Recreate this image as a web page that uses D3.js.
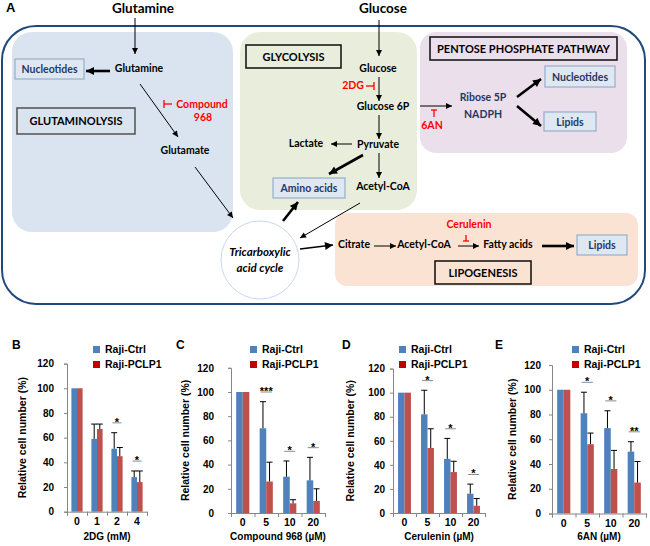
<!DOCTYPE html>
<html>
<head>
<meta charset="utf-8">
<script src="https://cdn.jsdelivr.net/npm/d3@7"></script>
<style>
  body { margin: 0; background: #fff; }
  svg { display: block; }
</style>
</head>
<body>
<div id="chart"></div>
<script>
// bar chart data
const seriesNames = ["Raji-Ctrl", "Raji-PCLP1"];
const yTicks = [0, 20, 40, 60, 80, 100, 120];

const catsB = ["0", "1", "2", "4"];
const ctrlB = [100, 59, 51, 28];
const ctrlErrB = [0, 12, 13, 5];
const pclpB = [100, 67, 45, 24];
const pclpErrB = [0, 4, 7, 9];
const sigB = ["", "", "*", "*"];

const catsC = ["0", "5", "10", "20"];
const ctrlC = [100, 70, 30, 27];
const ctrlErrC = [0, 22, 13, 19];
const pclpC = [100, 26, 8, 10];
const pclpErrC = [0, 16, 3, 10];
const sigC = ["", "***", "*", "*"];

const catsD = ["0", "5", "10", "20"];
const ctrlD = [100, 82, 45, 16];
const ctrlErrD = [0, 20, 17, 8];
const pclpD = [100, 54, 34, 6];
const pclpErrD = [0, 16, 9, 6];
const sigD = ["", "*", "*", "*"];

const catsE = ["0", "5", "10", "20"];
const ctrlE = [100, 81, 69, 50];
const ctrlErrE = [0, 17, 14, 8];
const pclpE = [100, 56, 36, 25];
const pclpErrE = [0, 9, 15, 17];
const sigE = ["", "*", "*", "**"];

const W = 650, H = 546;
const blue = "#4F81BD", red = "#C0504D", redLegend = "#C00000";
const navy = "#1F3864";
const diagFont = "Lato, 'Open Sans', sans-serif";
const chartFont = "'Liberation Sans', Arial, sans-serif";

const svg = d3.select("#chart").append("svg")
    .attr("width", W)
    .attr("height", H);

const defs = svg.append("defs");
function addMarker(id, w, h) {
    defs.append("marker")
        .attr("id", id)
        .attr("viewBox", "0 0 10 10")
        .attr("refX", 10).attr("refY", 5)
        .attr("markerUnits", "userSpaceOnUse")
        .attr("markerWidth", w).attr("markerHeight", h)
        .attr("orient", "auto")
        .append("path")
        .attr("d", "M0,0 L10,5 L0,10 z")
        .attr("fill", "#000");
}
addMarker("thin", 7, 6);
addMarker("thick", 9, 8);

/* ---------------- panel A: the pathway diagram ---------------- */
const dia = svg.append("g");

dia.append("text").text("A")
    .attr("x", 6).attr("y", 12)
    .style("font", "bold 13px " + chartFont);

// outer cell outline
dia.append("rect")
    .attr("x", 2).attr("y", 26).attr("width", 643).attr("height", 278)
    .attr("rx", 34)
    .attr("fill", "none").attr("stroke", "#1F497D").attr("stroke-width", 2);

// coloured pathway areas
const areas = [
    {x: 12, y: 32, w: 221, h: 200, r: 20, fill: "#DAE4F0"},
    {x: 240, y: 32, w: 177, h: 178, r: 20, fill: "#E9EEDC"},
    {x: 420, y: 32, w: 207, h: 121, r: 16, fill: "#EADFEB"},
    {x: 335, y: 213, w: 303, h: 73, r: 12, fill: "#FBE3D4"}
];
dia.selectAll("rect.area").data(areas).enter().append("rect")
    .attr("class", "area")
    .attr("x", d => d.x).attr("y", d => d.y)
    .attr("width", d => d.w).attr("height", d => d.h)
    .attr("rx", d => d.r)
    .attr("fill", d => d.fill);

// TCA circle
dia.append("circle")
    .attr("cx", 260).attr("cy", 260).attr("r", 39)
    .attr("fill", "#fff").attr("stroke", "#C6D9F1").attr("stroke-width", 1);

// black title boxes
const titleBoxes = [
    {t: "GLUTAMINOLYSIS", x: 17, y: 108, w: 118, h: 26, stroke: "#595959"},
    {t: "GLYCOLYSIS", x: 246, y: 45, w: 95, h: 23, stroke: "#1a1a1a"},
    {t: "PENTOSE PHOSPHATE PATHWAY", x: 430, y: 37, w: 187, h: 23, stroke: "#1a1a1a"},
    {t: "LIPOGENESIS", x: 435, y: 261, w: 96, h: 23, stroke: "#1a1a1a"}
];
titleBoxes.forEach(b => {
    dia.append("rect")
        .attr("x", b.x).attr("y", b.y).attr("width", b.w).attr("height", b.h)
        .attr("fill", "none").attr("stroke", b.stroke).attr("stroke-width", 1.6);
    dia.append("text").text(b.t)
        .attr("x", b.x + b.w / 2).attr("y", b.y + b.h / 2 + 4)
        .attr("text-anchor", "middle")
        .style("font", "bold 11px " + diagFont);
});

// product boxes (navy text)
const prodBoxes = [
    {t: "Nucleotides", x: 15, y: 59, w: 69, h: 20},
    {t: "Amino acids", x: 273, y: 178, w: 72, h: 20},
    {t: "Nucleotides", x: 545, y: 66, w: 70, h: 21},
    {t: "Lipids", x: 544, y: 112, w: 52, h: 19},
    {t: "Lipids", x: 577, y: 235, w: 50, h: 20}
];
prodBoxes.forEach(b => {
    dia.append("rect")
        .attr("x", b.x).attr("y", b.y).attr("width", b.w).attr("height", b.h)
        .attr("fill", "#DFE7F1").attr("stroke", "#95AFCB").attr("stroke-width", 1.2);
    dia.append("text").text(b.t)
        .attr("x", b.x + b.w / 2).attr("y", b.y + b.h / 2 + 4)
        .attr("text-anchor", "middle")
        .attr("fill", navy)
        .style("font", "bold 10.5px " + diagFont);
});

// plain labels
const labels = [
    {t: "Glutamine", x: 143, y: 13, s: 13.5},
    {t: "Glucose", x: 383, y: 13, s: 13.5},
    {t: "Glutamine", x: 139, y: 72},
    {t: "Glutamate", x: 185, y: 154},
    {t: "Glucose", x: 378, y: 72},
    {t: "Glucose 6P", x: 383, y: 110},
    {t: "Pyruvate", x: 378, y: 148},
    {t: "Lactate", x: 306, y: 147},
    {t: "Acetyl-CoA", x: 383, y: 190},
    {t: "Ribose 5P", x: 483, y: 101, c: navy},
    {t: "NADPH", x: 483, y: 118, c: navy},
    {t: "Citrate", x: 354, y: 248},
    {t: "Acetyl-CoA", x: 424, y: 248},
    {t: "Fatty acids", x: 508, y: 248},
    {t: "Compound", x: 202, y: 108, c: "#FF0000"},
    {t: "968", x: 203, y: 121, c: "#FF0000"},
    {t: "2DG", x: 353, y: 89, c: "#FF0000"},
    {t: "6AN", x: 432, y: 129, c: "#FF0000"},
    {t: "Cerulenin", x: 469, y: 228, c: "#FF0000"}
];
dia.selectAll("text.lab").data(labels).enter().append("text")
    .attr("class", "lab")
    .attr("x", d => d.x).attr("y", d => d.y)
    .attr("text-anchor", "middle")
    .attr("fill", d => d.c || "#000")
    .style("font", d => "bold " + (d.s || 10.5) + "px " + diagFont)
    .text(d => d.t);

dia.append("text")
    .attr("x", 260).attr("text-anchor", "middle")
    .style("font", "italic bold 11.5px " + diagFont)
    .selectAll("tspan").data(["Tricarboxylic", "acid cycle"]).enter()
    .append("tspan")
    .attr("x", 260).attr("y", (d, i) => 256 + i * 16)
    .text(d => d);

// arrows
const arrows = [
    [135, 18, 135, 54, "thin"], [140, 84, 178, 137, "thin"], [195, 167, 233, 218, "thin"],
    [379, 20, 379, 56, "thin"], [379, 77, 379, 101, "thin"], [379, 115, 379, 139, "thin"],
    [352, 144, 331, 144, "thin"], [379, 153, 379, 178, "thin"], [360, 203, 300, 238, "thin"],
    [420, 106, 452, 106, "thin"], [374, 246, 396, 246, "thin"], [458, 246, 479, 246, "thin"],
    [110, 71, 86, 71, "thick"], [363, 155, 329, 174, "thick"], [283, 221, 298, 202, "thick"],
    [300, 249, 333, 245, "mid"], [517, 97, 541, 79, "thick"], [517, 106, 541, 126, "thick"],
    [542, 246, 574, 246, "thick"]
];
dia.selectAll("line.arr").data(arrows).enter().append("line")
    .attr("class", "arr")
    .attr("x1", d => d[0]).attr("y1", d => d[1])
    .attr("x2", d => d[2]).attr("y2", d => d[3])
    .attr("stroke", "#000")
    .attr("stroke-width", d => d[4] === "thin" ? 1 : (d[4] === "mid" ? 1.6 : 2.6))
    .attr("marker-end", d => d[4] === "thin" ? "url(#thin)" : "url(#thick)");

// inhibitor bars (red)
const inhib = [
    [164, 104, 172, 104], [164, 100, 164, 108],
    [366, 86, 374, 86], [374, 82, 374, 90],
    [431, 110, 437, 110], [434, 110, 434, 117],
    [463, 241, 469, 241], [466, 235, 466, 241]
];
dia.selectAll("line.inh").data(inhib).enter().append("line")
    .attr("class", "inh")
    .attr("x1", d => d[0]).attr("y1", d => d[1])
    .attr("x2", d => d[2]).attr("y2", d => d[3])
    .attr("stroke", "#FF0000").attr("stroke-width", 1.3);

/* ---------------- panels B-E: bar charts ---------------- */
const panels = [
    {id: "B", cats: catsB, ctrl: ctrlB, ctrlErr: ctrlErrB, pclp: pclpB, pclpErr: pclpErrB, sig: sigB,
        title: "2DG (mM)", left: 67, right: 147, y0: 511.7, y120: 363.6, labRight: 54, ytX: 22, letterX: 12, legX: 93},
    {id: "C", cats: catsC, ctrl: ctrlC, ctrlErr: ctrlErrC, pclp: pclpC, pclpErr: pclpErrC, sig: sigC,
        title: "Compound 968 (\u00B5M)", left: 231, right: 325, y0: 513, y120: 367.8, labRight: 214, ytX: 185, letterX: 176, legX: 250},
    {id: "D", cats: catsD, ctrl: ctrlD, ctrlErr: ctrlErrD, pclp: pclpD, pclpErr: pclpErrD, sig: sigD,
        title: "Cerulenin (\u00B5M)", left: 393, right: 485, y0: 513, y120: 368.6, labRight: 385, ytX: 350, letterX: 342, legX: 399},
    {id: "E", cats: catsE, ctrl: ctrlE, ctrlErr: ctrlErrE, pclp: pclpE, pclpErr: pclpErrE, sig: sigE,
        title: "6AN (\u00B5M)", left: 552, right: 646, y0: 513.5, y120: 365, labRight: 541, ytX: 512, letterX: 495, legX: 572}
];

function drawPanel(p) {
    const g = svg.append("g");

    const y = d3.scaleLinear().domain([0, 120]).range([p.y0, p.y120]);
    const x = d3.scaleBand().domain(p.cats).range([p.left, p.right])
        .paddingInner(0.44).paddingOuter(0.22);
    const xs = d3.scaleBand().domain(["ctrl", "pclp"]).range([0, x.bandwidth()]);
    const xt = d3.scaleLinear().domain([0, p.cats.length]).range([p.left, p.right]);

    // y axis
    const ya = g.append("g")
        .attr("transform", `translate(${p.left},0)`)
        .call(d3.axisLeft(y).tickValues(yTicks).tickSize(3).tickPadding(p.left - p.labRight - 3));
    ya.select(".domain").attr("stroke", "#868686");
    ya.selectAll(".tick line").attr("stroke", "#868686");
    ya.selectAll("text").style("font", "bold 10px " + chartFont).attr("fill", "#000");

    // bars
    const rows = p.cats.map((c, i) => [
        {cat: c, key: "ctrl", v: p.ctrl[i], e: p.ctrlErr[i]},
        {cat: c, key: "pclp", v: p.pclp[i], e: p.pclpErr[i]}
    ]).flat();

    g.selectAll("rect.bar").data(rows).enter().append("rect")
        .attr("class", "bar")
        .attr("x", d => x(d.cat) + xs(d.key))
        .attr("y", d => y(d.v))
        .attr("width", xs.bandwidth())
        .attr("height", d => y(0) - y(d.v))
        .attr("fill", d => d.key === "ctrl" ? blue : red);

    // error bars, upper half only
    const errs = rows.filter(d => d.e > 0);
    const cx = d => x(d.cat) + xs(d.key) + xs.bandwidth() / 2;
    g.selectAll("line.err").data(errs).enter().append("line")
        .attr("x1", cx).attr("x2", cx)
        .attr("y1", d => y(d.v)).attr("y2", d => y(d.v + d.e))
        .attr("stroke", "#000").attr("stroke-width", 1);
    g.selectAll("line.cap").data(errs).enter().append("line")
        .attr("x1", d => cx(d) - 3).attr("x2", d => cx(d) + 3)
        .attr("y1", d => y(d.v + d.e)).attr("y2", d => y(d.v + d.e))
        .attr("stroke", "#000").attr("stroke-width", 1);

    // x axis: tick marks between categories, labels under them
    const xa = g.append("g")
        .attr("transform", `translate(0,${p.y0})`)
        .call(d3.axisBottom(xt).tickValues(d3.range(p.cats.length + 1)).tickFormat("").tickSize(4));
    xa.select(".domain").attr("stroke", "#868686");
    xa.selectAll(".tick line").attr("stroke", "#868686");
    const xl = g.append("g")
        .attr("transform", `translate(0,${p.y0})`)
        .call(d3.axisBottom(x).tickSize(0).tickPadding(6));
    xl.select(".domain").remove();
    xl.selectAll("text").style("font", "bold 10.5px " + chartFont).attr("fill", "#000");

    // significance marks
    p.sig.forEach((s, i) => {
        if (!s) return;
        const top = Math.max(p.ctrl[i] + p.ctrlErr[i], p.pclp[i] + p.pclpErr[i]);
        const ly = y(top + 8);
        const x0 = x(p.cats[i]);
        g.append("line")
            .attr("x1", x0 + 1).attr("x2", x0 + x.bandwidth() - 1)
            .attr("y1", ly).attr("y2", ly)
            .attr("stroke", "#8c8c8c").attr("stroke-width", 1);
        g.append("text").text(s)
            .attr("x", x0 + x.bandwidth() / 2).attr("y", ly + 3)
            .attr("text-anchor", "middle")
            .style("font", "bold 11px " + chartFont);
    });

    // axis titles
    g.append("text").text(p.title)
        .attr("x", (p.left + p.right) / 2).attr("y", 540)
        .attr("text-anchor", "middle")
        .style("font", "bold 10px " + chartFont);
    g.append("text").text("Relative cell number (%)")
        .attr("transform", `translate(${p.ytX + 4},${(p.y0 + p.y120) / 2})rotate(-90)`)
        .attr("text-anchor", "middle")
        .style("font", "bold 10.5px " + chartFont);

    // panel letter
    g.append("text").text(p.id)
        .attr("x", p.letterX).attr("y", 349)
        .style("font", "bold 12px " + chartFont);

    // legend
    seriesNames.forEach((n, i) => {
        g.append("rect")
            .attr("x", p.legX).attr("y", 346 + i * 15)
            .attr("width", 7).attr("height", 7)
            .attr("fill", i === 0 ? blue : redLegend);
        g.append("text").text(n)
            .attr("x", p.legX + 12).attr("y", 353 + i * 15)
            .style("font", "bold 10.5px " + chartFont);
    });
}

panels.forEach(drawPanel);
</script>
</body>
</html>
